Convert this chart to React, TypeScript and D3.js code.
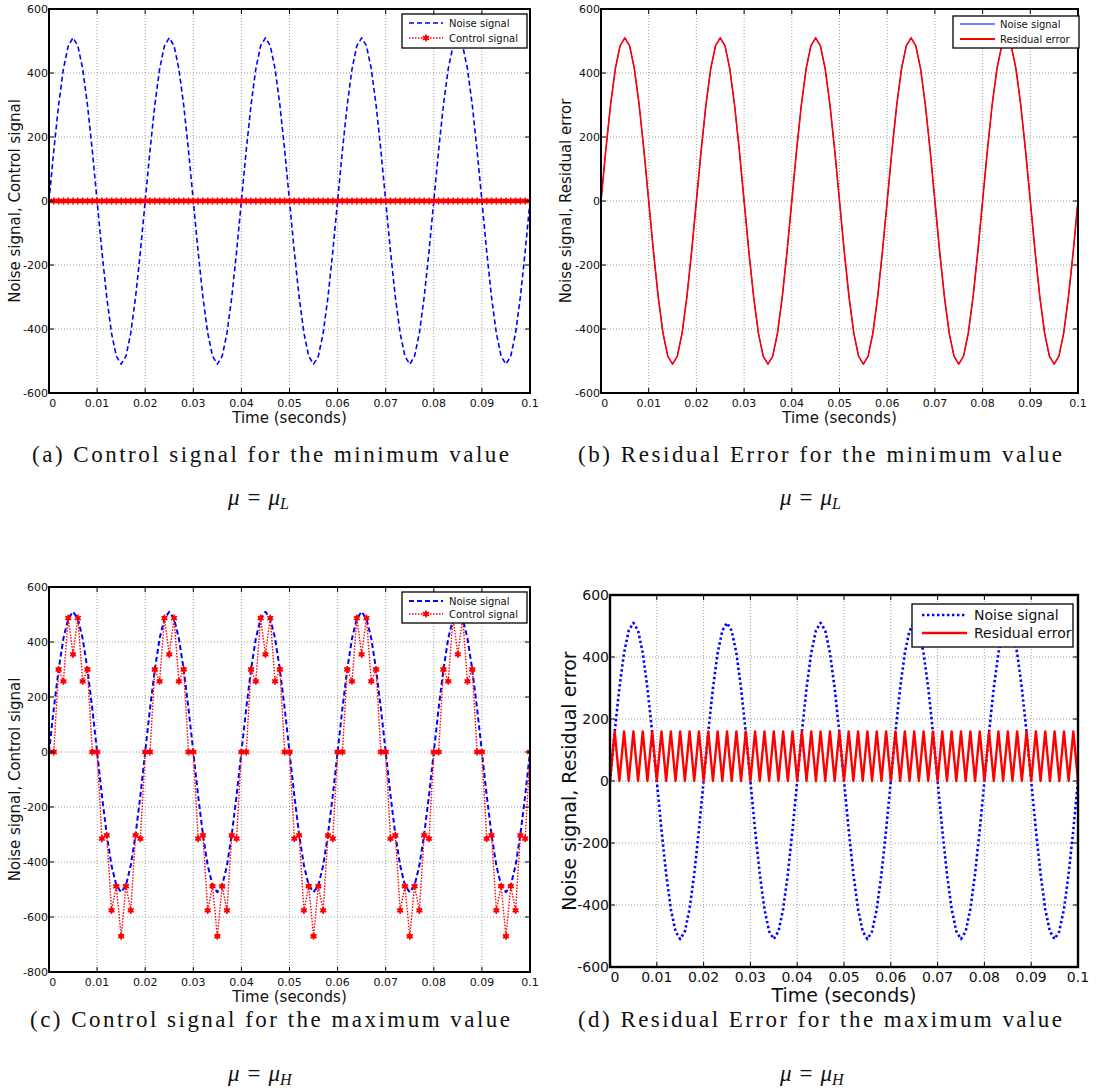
import React from "react";
import * as d3 from "d3";

// sampling of every series (seconds between samples)
const sampleStep = 0.001;

const xTicks = [0, 0.01, 0.02, 0.03, 0.04, 0.05, 0.06, 0.07, 0.08, 0.09, 0.1];
const xTickLabels = ["0", "0.01", "0.02", "0.03", "0.04", "0.05", "0.06", "0.07", "0.08", "0.09", "0.1"];
const yTicksSmall = [-600, -400, -200, 0, 200, 400, 600];
const yTicksLarge = [-800, -600, -400, -200, 0, 200, 400, 600];

const noiseSignal = [
    0, 158, 300, 413, 485, 510, 485, 413, 300, 158, 0, -158, -300, -413, -485, -510, -485, -413, -300, -158,
    0, 158, 300, 413, 485, 510, 485, 413, 300, 158, 0, -158, -300, -413, -485, -510, -485, -413, -300, -158,
    0, 158, 300, 413, 485, 510, 485, 413, 300, 158, 0, -158, -300, -413, -485, -510, -485, -413, -300, -158,
    0, 158, 300, 413, 485, 510, 485, 413, 300, 158, 0, -158, -300, -413, -485, -510, -485, -413, -300, -158,
    0, 158, 300, 413, 485, 510, 485, 413, 300, 158, 0, -158, -300, -413, -485, -510, -485, -413, -300, -158,
    0,
];

const controlMin = [
    0, 0, 0, 0, 0, 0, 0, 0, 0, 0, 0, 0, 0, 0, 0, 0, 0, 0, 0, 0,
    0, 0, 0, 0, 0, 0, 0, 0, 0, 0, 0, 0, 0, 0, 0, 0, 0, 0, 0, 0,
    0, 0, 0, 0, 0, 0, 0, 0, 0, 0, 0, 0, 0, 0, 0, 0, 0, 0, 0, 0,
    0, 0, 0, 0, 0, 0, 0, 0, 0, 0, 0, 0, 0, 0, 0, 0, 0, 0, 0, 0,
    0, 0, 0, 0, 0, 0, 0, 0, 0, 0, 0, 0, 0, 0, 0, 0, 0, 0, 0, 0,
    0,
];

// residual for mu_L is the noise itself (nothing cancelled)
const residualMin = [
    0, 158, 300, 413, 485, 510, 485, 413, 300, 158, 0, -158, -300, -413, -485, -510, -485, -413, -300, -158,
    0, 158, 300, 413, 485, 510, 485, 413, 300, 158, 0, -158, -300, -413, -485, -510, -485, -413, -300, -158,
    0, 158, 300, 413, 485, 510, 485, 413, 300, 158, 0, -158, -300, -413, -485, -510, -485, -413, -300, -158,
    0, 158, 300, 413, 485, 510, 485, 413, 300, 158, 0, -158, -300, -413, -485, -510, -485, -413, -300, -158,
    0, 158, 300, 413, 485, 510, 485, 413, 300, 158, 0, -158, -300, -413, -485, -510, -485, -413, -300, -158,
    0,
];

const controlMax = [
    0, 0, 300, 257, 487, 355, 487, 257, 300, 0, 0, -315, -303, -576, -488, -670, -488, -576, -303, -315,
    0, 0, 300, 257, 487, 355, 487, 257, 300, 0, 0, -315, -303, -576, -488, -670, -488, -576, -303, -315,
    0, 0, 300, 257, 487, 355, 487, 257, 300, 0, 0, -315, -303, -576, -488, -670, -488, -576, -303, -315,
    0, 0, 300, 257, 487, 355, 487, 257, 300, 0, 0, -315, -303, -576, -488, -670, -488, -576, -303, -315,
    0, 0, 300, 257, 487, 355, 487, 257, 300, 0, 0, -315, -303, -576, -488, -670, -488, -576, -303, -315,
    0,
];

const residualMax = [
    0, 160, 0, 160, 0, 160, 0, 160, 0, 160, 0, 160, 0, 160, 0, 160, 0, 160, 0, 160,
    0, 160, 0, 160, 0, 160, 0, 160, 0, 160, 0, 160, 0, 160, 0, 160, 0, 160, 0, 160,
    0, 160, 0, 160, 0, 160, 0, 160, 0, 160, 0, 160, 0, 160, 0, 160, 0, 160, 0, 160,
    0, 160, 0, 160, 0, 160, 0, 160, 0, 160, 0, 160, 0, 160, 0, 160, 0, 160, 0, 160,
    0, 160, 0, 160, 0, 160, 0, 160, 0, 160, 0, 160, 0, 160, 0, 160, 0, 160, 0, 160,
    0,
];

const sans = "'DejaVu Sans', Verdana, sans-serif";
const serif = "'Liberation Serif', 'DejaVu Serif', serif";

const starPath = d3.symbol().type(d3.symbolAsterisk).size(34)();

const Marker = ({ cx, cy }) => (
    <g transform={`translate(${cx},${cy})`}>
        <circle r={2.4} fill="#ff0000" />
        <path d={starPath} stroke="#ff0000" strokeWidth={1.6} fill="none" />
    </g>
);

const Panel = ({ box, yDomain, yTicks, fonts, yLabel, series, legend, frame }) => {
    const x = d3.scaleLinear().domain([0, 0.1]).range([box.x0, box.x1]);
    const y = d3.scaleLinear().domain(yDomain).range([box.y1, box.y0]);
    const line = d3
        .line()
        .x((d, i) => x(i * sampleStep))
        .y((d) => y(d));
    const clipId = "clip" + box.x0 + "_" + box.y0;
    const tick = 5;

    return (
        <g>
            <defs>
                <clipPath id={clipId}>
                    <rect x={box.x0} y={box.y0 - 2} width={box.x1 - box.x0} height={box.y1 - box.y0 + 4} />
                </clipPath>
            </defs>
            {/* grid */}
            {xTicks.slice(1, -1).map((t) => (
                <line key={"gx" + t} x1={x(t)} x2={x(t)} y1={box.y0} y2={box.y1}
                    stroke="#888" strokeWidth={0.8} strokeDasharray="1,2" />
            ))}
            {yTicks.slice(1, -1).map((t) => (
                <line key={"gy" + t} x1={box.x0} x2={box.x1} y1={y(t)} y2={y(t)}
                    stroke="#888" strokeWidth={0.8} strokeDasharray="1,2" />
            ))}
            {/* data */}
            <g clipPath={`url(#${clipId})`}>
                {series.map((s, k) => (
                    <g key={k}>
                        <path d={line(s.values)} fill="none" stroke={s.color} strokeWidth={s.width}
                            strokeDasharray={s.dash} strokeLinejoin="round" />
                        {s.marker && s.values.map((v, i) => <Marker key={i} cx={x(i * sampleStep)} cy={y(v)} />)}
                    </g>
                ))}
            </g>
            {/* ticks, all four sides, inward */}
            {xTicks.map((t) => (
                <g key={"tx" + t}>
                    <line x1={x(t)} x2={x(t)} y1={box.y1} y2={box.y1 - tick} stroke="#000" strokeWidth={1} />
                    <line x1={x(t)} x2={x(t)} y1={box.y0} y2={box.y0 + tick} stroke="#000" strokeWidth={1} />
                </g>
            ))}
            {yTicks.map((t) => (
                <g key={"ty" + t}>
                    <line x1={box.x0} x2={box.x0 + tick} y1={y(t)} y2={y(t)} stroke="#000" strokeWidth={1} />
                    <line x1={box.x1} x2={box.x1 - tick} y1={y(t)} y2={y(t)} stroke="#000" strokeWidth={1} />
                </g>
            ))}
            <rect x={box.x0} y={box.y0} width={box.x1 - box.x0} height={box.y1 - box.y0}
                fill="none" stroke="#000" strokeWidth={frame} />
            {/* tick labels */}
            {xTicks.map((t, i) => (
                <text key={"lx" + t} x={x(t) + (i === 0 ? fonts.tick * 0.35 : 0)} y={box.y1 + fonts.tickGap}
                    textAnchor="middle" fontFamily={sans} fontSize={fonts.tick} fill="#111">
                    {xTickLabels[i]}
                </text>
            ))}
            {yTicks.map((t) => (
                <text key={"ly" + t} x={box.x0 - 1} y={y(t)} dy="0.35em" textAnchor="end"
                    fontFamily={sans} fontSize={fonts.tick} fill="#111">
                    {String(t)}
                </text>
            ))}
            <text x={(box.x0 + box.x1) / 2} y={box.y1 + fonts.labelGap} textAnchor="middle"
                fontFamily={sans} fontSize={fonts.label} fill="#111">
                Time (seconds)
            </text>
            <text transform={`translate(${fonts.yLabelX},${(box.y0 + box.y1) / 2}) rotate(-90)`}
                textAnchor="middle" fontFamily={sans} fontSize={fonts.label} fill="#111">
                {yLabel}
            </text>
            {/* legend */}
            <rect x={legend.x0} y={legend.y0} width={legend.x1 - legend.x0} height={legend.y1 - legend.y0}
                fill="#fff" stroke="#000" strokeWidth={1.3} />
            {legend.items.map((it, k) => (
                <g key={"lg" + k}>
                    <line x1={legend.lineX0} x2={legend.lineX1} y1={legend.rows[k]} y2={legend.rows[k]}
                        stroke={it.color} strokeWidth={it.width} strokeDasharray={it.dash} />
                    {it.marker && <Marker cx={(legend.lineX0 + legend.lineX1) / 2} cy={legend.rows[k]} />}
                    <text x={legend.textX} y={legend.rows[k]} dy="0.35em" fontFamily={sans}
                        fontSize={legend.font} fill="#111">
                        {it.label}
                    </text>
                </g>
            ))}
        </g>
    );
};

const Caption = ({ x, y, width, text, muX, muY, sub }) => (
    <g fontFamily={serif} fill="#111">
        <text x={x} y={y} fontSize={23} textLength={width} lengthAdjust="spacing">
            {text}
        </text>
        <text x={muX} y={muY} fontSize={23}>
            <tspan fontStyle="italic">μ</tspan>
            <tspan dx={8}>=</tspan>
            <tspan dx={8} fontStyle="italic">μ</tspan>
            <tspan fontStyle="italic" fontSize={16} dy={4}>{sub}</tspan>
        </text>
    </g>
);

const smallFonts = { tick: 11, tickGap: 14, label: 15, labelGap: 30, yLabelX: 20 };

const App = () => {
    const dashedNoise = { color: "#0000ff", width: 1.6, dash: "5,3" };
    const dottedControl = { color: "#ff0000", width: 1.4, dash: "1.5,1.5", marker: true };

    return (
        <svg width={1100} height={1090} style={{ position: "absolute", left: 0, top: 0, background: "#fff" }}>
            <rect width={1100} height={1090} fill="#fff" />

            {/* (a) */}
            <Panel
                box={{ x0: 49, x1: 530, y0: 9, y1: 393 }}
                yDomain={[-600, 600]}
                yTicks={yTicksSmall}
                fonts={smallFonts}
                frame={2}
                yLabel="Noise signal, Control signal"
                series={[
                    { values: noiseSignal, ...dashedNoise },
                    { values: controlMin, ...dottedControl },
                ]}
                legend={{
                    x0: 402, x1: 527, y0: 14, y1: 48, rows: [23, 38], lineX0: 409, lineX1: 443, textX: 449, font: 10,
                    items: [
                        { label: "Noise signal", ...dashedNoise },
                        { label: "Control signal", ...dottedControl },
                    ],
                }}
            />

            {/* (b) */}
            <Panel
                box={{ x0: 601, x1: 1078, y0: 9, y1: 393 }}
                yDomain={[-600, 600]}
                yTicks={yTicksSmall}
                fonts={{ ...smallFonts, yLabelX: 571 }}
                frame={2}
                yLabel="Noise signal, Residual error"
                series={[
                    { values: noiseSignal, color: "#0000ff", width: 1 },
                    { values: residualMin, color: "#ff0000", width: 1.6 },
                ]}
                legend={{
                    x0: 953, x1: 1079, y0: 16, y1: 48, rows: [24, 39], lineX0: 960, lineX1: 995, textX: 1000, font: 10,
                    items: [
                        { label: "Noise signal", color: "#0000ff", width: 1 },
                        { label: "Residual error", color: "#ff0000", width: 2 },
                    ],
                }}
            />

            {/* (c) */}
            <Panel
                box={{ x0: 49, x1: 530, y0: 587, y1: 972 }}
                yDomain={[-800, 600]}
                yTicks={yTicksLarge}
                fonts={smallFonts}
                frame={2}
                yLabel="Noise signal, Control signal"
                series={[
                    { values: noiseSignal, ...dashedNoise, width: 2 },
                    { values: controlMax, ...dottedControl },
                ]}
                legend={{
                    x0: 402, x1: 527, y0: 592, y1: 623, rows: [601, 614], lineX0: 409, lineX1: 443, textX: 449, font: 10,
                    items: [
                        { label: "Noise signal", ...dashedNoise, width: 2 },
                        { label: "Control signal", ...dottedControl },
                    ],
                }}
            />

            {/* (d) */}
            <Panel
                box={{ x0: 610, x1: 1078, y0: 595, y1: 967 }}
                yDomain={[-600, 600]}
                yTicks={yTicksSmall}
                fonts={{ tick: 14, tickGap: 15, label: 19, labelGap: 35, yLabelX: 576 }}
                frame={2.4}
                yLabel="Noise signal, Residual error"
                series={[
                    { values: noiseSignal, color: "#0000ff", width: 2.6, dash: "2.4,2.6" },
                    { values: residualMax, color: "#ff0000", width: 2.4 },
                ]}
                legend={{
                    x0: 912, x1: 1073, y0: 604, y1: 647, rows: [615, 633], lineX0: 922, lineX1: 967, textX: 974, font: 14,
                    items: [
                        { label: "Noise signal", color: "#0000ff", width: 2.6, dash: "2.4,2.6" },
                        { label: "Residual error", color: "#ff0000", width: 2.6 },
                    ],
                }}
            />

            <Caption x={32} y={462} width={477} text="(a) Control signal for the minimum value" muX={228} muY={505} sub="L" />
            <Caption x={578} y={462} width={484} text="(b) Residual Error for the minimum value" muX={780} muY={505} sub="L" />
            <Caption x={30} y={1027} width={480} text="(c) Control signal for the maximum value" muX={228} muY={1081} sub="H" />
            <Caption x={578} y={1027} width={484} text="(d) Residual Error for the maximum value" muX={780} muY={1081} sub="H" />
        </svg>
    );
};

export default App;
